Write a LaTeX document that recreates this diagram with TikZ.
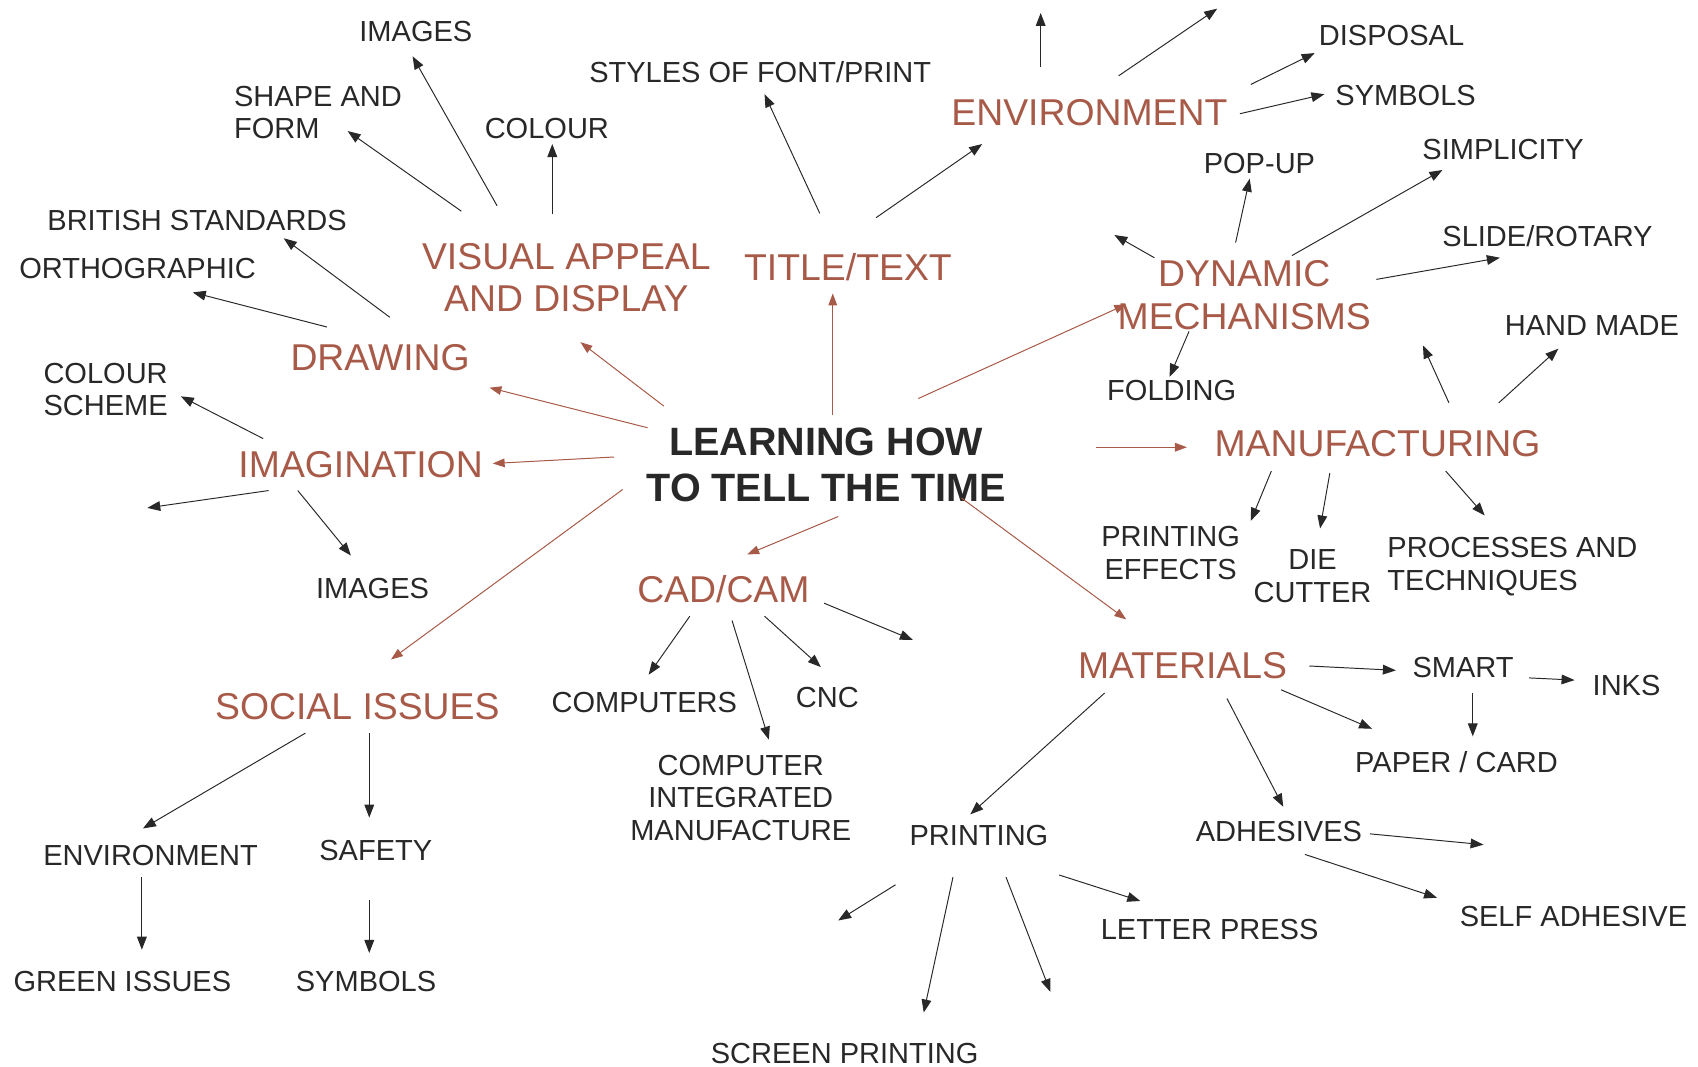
\documentclass[tikz,border=0pt]{standalone}
\usepackage{fontspec}
\setmainfont{Liberation Sans}
\usetikzlibrary{arrows.meta}
\definecolor{brn}{RGB}{168,90,72}
\definecolor{ink}{RGB}{40,40,40}
\begin{document}
\begin{tikzpicture}[x=1pt,y=-1pt,
  lab/.style={font=\fontsize{26.8}{30}\selectfont, text=ink, inner sep=0pt, anchor=base, align=center},
  labl/.style={lab, anchor=base west, align=left},
  cat/.style={font=\fontsize{34.5}{39}\selectfont, text=brn, inner sep=0pt, anchor=base, align=center},
  hub/.style={font=\fontsize{36.5}{42}\selectfont\bfseries, text=ink, inner sep=0pt, anchor=base, align=center},
  ar/.style={-{Triangle[length=12pt,width=9pt]}, draw=ink, line width=0.9pt},
  bar/.style={-{Triangle[length=11pt,width=8pt]}, draw=brn, fill=brn, line width=0.9pt}]
\useasboundingbox (0,0) rectangle (1568,985);
% hub (anchor base = baseline of last line)
\node[hub] (c) at (763,463) {LEARNING HOW\\TO TELL THE TIME};
% categories
\node[cat] (vis) at (523,288) {VISUAL APPEAL\\AND DISPLAY};
\node[cat] (title) at (783,259) {TITLE/TEXT};
\node[cat] (env) at (1006,116) {ENVIRONMENT};
\node[cat] (draw) at (351,342) {DRAWING};
\node[cat] (imag) at (333,441) {IMAGINATION};
\node[cat] (dyn) at (1149,304) {DYNAMIC\\MECHANISMS};
\node[cat] (manu) at (1272,422) {MANUFACTURING};
\node[cat] (cad) at (668,556) {CAD/CAM};
\node[cat] (mat) at (1092,627) {MATERIALS};
\node[cat] (soc) at (330,664) {SOCIAL ISSUES};
% labels
\node[lab] (img1) at (384,38) {IMAGES};
\node[labl] (shape) at (216,128) {SHAPE AND\\FORM};
\node[lab] (col1) at (505,128) {COLOUR};
\node[lab] (styles) at (702,76) {STYLES OF FONT/PRINT};
\node[lab] (brit) at (182,213) {BRITISH STANDARDS};
\node[lab] (ortho) at (127,257) {ORTHOGRAPHIC};
\node[labl] (colsch) at (40,384) {COLOUR\\SCHEME};
\node[lab] (img2) at (344,553) {IMAGES};
\node[lab] (disp) at (1285,42) {DISPOSAL};
\node[lab] (sym1) at (1298,97) {SYMBOLS};
\node[lab] (pop) at (1163,160) {POP-UP};
\node[lab] (simp) at (1388,147) {SIMPLICITY};
\node[lab] (slide) at (1429,228) {SLIDE/ROTARY};
\node[lab] (hand) at (1470,310) {HAND MADE};
\node[lab] (fold) at (1082,370) {FOLDING};
\node[lab] (peff) at (1081,535) {PRINTING\\EFFECTS};
\node[lab] (die) at (1212,556) {DIE\\CUTTER};
\node[labl] (proc) at (1281,545) {PROCESSES AND\\TECHNIQUES};
\node[lab] (comps) at (595,658) {COMPUTERS};
\node[lab] (cnc) at (764,653) {CNC};
\node[lab] (cim) at (684,776) {COMPUTER\\INTEGRATED\\MANUFACTURE};
\node[lab] (smart) at (1351,626) {SMART};
\node[lab] (inks) at (1502,642) {INKS};
\node[lab] (paper) at (1345,713) {PAPER / CARD};
\node[lab] (adh) at (1181,777) {ADHESIVES};
\node[lab] (self) at (1453,856) {SELF ADHESIVE};
\node[lab] (print) at (904,781) {PRINTING};
\node[lab] (letter) at (1117,868) {LETTER PRESS};
\node[lab] (screen) at (780,982) {SCREEN PRINTING};
\node[lab] (env2) at (139,799) {ENVIRONMENT};
\node[lab] (safety) at (347,795) {SAFETY};
\node[lab] (green) at (113,916) {GREEN ISSUES};
\node[lab] (sym2) at (338,916) {SYMBOLS};
% free ends
\coordinate (fe1) at (961,12);
\coordinate (fe2) at (1124,8);
\coordinate (fi1) at (136,469);
\coordinate (fd1) at (1029,217);
\coordinate (fm1) at (1314,319);
\coordinate (fc1) at (843,591);
\coordinate (fa1) at (1370,780);
\coordinate (fp1) at (774,850);
\coordinate (fp2) at (970,916);
% hub arrows
\draw[bar] ([shift={(-150,-88)}]c.base) -- ([shift={(13,28)}]vis.base);
\draw[bar] ([shift={(-165,-68)}]c.base) -- ([shift={(101,16)}]draw.base);
\draw[bar] ([shift={(6,-80)}]c.base) -- ([shift={(-14,12)}]title.base);
\draw[bar] ([shift={(-196,-41)}]c.base) -- ([shift={(122,-13)}]imag.base);
\draw[bar] ([shift={(85,-95)}]c.base) -- ([shift={(-109,-23)}]dyn.base);
\draw[bar] ([shift={(249,-50)}]c.base) -- ([shift={(-176,-9)}]manu.base);
\draw[bar] ([shift={(11,14)}]c.base) -- ([shift={(22,-44)}]cad.base);
\draw[bar] ([shift={(125,-3)}]c.base) -- ([shift={(-52,-55)}]mat.base);
\draw[bar] ([shift={(-188,-11)}]c.base) -- ([shift={(31,-55)}]soc.base);
% visual appeal
\draw[ar] ([shift={(-64,-98)}]vis.base) -- ([shift={(-3,14)}]img1.base);
\draw[ar] ([shift={(-97,-93)}]vis.base) -- ([shift={(105,-7)}]shape.base west);
\draw[ar] ([shift={(-13,-90)}]vis.base) -- ([shift={(5,5)}]col1.base);
% title
\draw[ar] ([shift={(-26,-62)}]title.base) -- ([shift={(4,11)}]styles.base);
\draw[ar] ([shift={(26,-58)}]title.base) -- ([shift={(-99,17)}]env.base);
% environment
\draw[ar] ([shift={(-45,-54)}]env.base) -- (fe1);
\draw[ar] ([shift={(27,-46)}]env.base) -- (fe2);
\draw[ar] ([shift={(149,-38)}]env.base) -- ([shift={(-71,7)}]disp.base);
\draw[ar] ([shift={(139,-11)}]env.base) -- ([shift={(-75,-10)}]sym1.base);
% drawing
\draw[ar] ([shift={(9,-49)}]draw.base) -- ([shift={(80,7)}]brit.base);
\draw[ar] ([shift={(-49,-40)}]draw.base) -- ([shift={(51,13)}]ortho.base);
% imagination
\draw[ar] ([shift={(-90,-36)}]imag.base) -- ([shift={(127,-18)}]colsch.base west);
\draw[ar] ([shift={(-85,12)}]imag.base) -- (fi1);
\draw[ar] ([shift={(-58,12)}]imag.base) -- ([shift={(-20,-40)}]img2.base);
% dynamic mechanisms
\draw[ar] ([shift={(-83,-66)}]dyn.base) -- (fd1);
\draw[ar] ([shift={(-8,-80)}]dyn.base) -- ([shift={(-9,5)}]pop.base);
\draw[ar] ([shift={(44,-68)}]dyn.base) -- ([shift={(-56,10)}]simp.base);
\draw[ar] ([shift={(122,-46)}]dyn.base) -- ([shift={(-44,10)}]slide.base);
\draw[ar] ([shift={(-51,2)}]dyn.base) -- ([shift={(-2,-22)}]fold.base);
% manufacturing
\draw[ar] ([shift={(66,-50)}]manu.base) -- (fm1);
\draw[ar] ([shift={(112,-50)}]manu.base) -- ([shift={(-31,12)}]hand.base);
\draw[ar] ([shift={(-98,13)}]manu.base) -- ([shift={(74,-54)}]peff.base);
\draw[ar] ([shift={(-44,15)}]manu.base) -- ([shift={(7,-68)}]die.base);
\draw[ar] ([shift={(63,13)}]manu.base) -- ([shift={(90,-69)}]proc.base west);
% cad/cam
\draw[ar] ([shift={(-31,13)}]cad.base) -- ([shift={(4,-35)}]comps.base);
\draw[ar] ([shift={(38,13)}]cad.base) -- ([shift={(-6,-37)}]cnc.base);
\draw[ar] ([shift={(8,17)}]cad.base) -- ([shift={(26,-93)}]cim.base);
\draw[ar] ([shift={(93,1)}]cad.base) -- (fc1);
% materials
\draw[ar] ([shift={(117,-12)}]mat.base) -- ([shift={(-62,-7)}]smart.base);
\draw[ar] ([shift={(91,10)}]mat.base) -- ([shift={(-78,-40)}]paper.base);
\draw[ar] ([shift={(41,18)}]mat.base) -- ([shift={(4,-32)}]adh.base);
\draw[ar] ([shift={(-72,13)}]mat.base) -- ([shift={(-8,-29)}]print.base);
% smart
\draw[ar] ([shift={(61,0)}]smart.base) -- ([shift={(-48,-14)}]inks.base);
\draw[ar] ([shift={(9,14)}]smart.base) -- ([shift={(15,-33)}]paper.base);
% adhesives
\draw[ar] ([shift={(84,-7)}]adh.base) -- (fa1);
\draw[ar] ([shift={(24,12)}]adh.base) -- ([shift={(-126,-27)}]self.base);
% printing
\draw[ar] ([shift={(-77,36)}]print.base) -- (fp1);
\draw[ar] ([shift={(-24,29)}]print.base) -- ([shift={(73,-47)}]screen.base);
\draw[ar] ([shift={(25,29)}]print.base) -- (fp2);
\draw[ar] ([shift={(74,27)}]print.base) -- ([shift={(-64,-36)}]letter.base);
% social issues
\draw[ar] ([shift={(-48,13)}]soc.base) -- ([shift={(-7,-34)}]env2.base);
\draw[ar] ([shift={(11,13)}]soc.base) -- ([shift={(-6,-40)}]safety.base);
\draw[ar] ([shift={(-8,11)}]env2.base) -- ([shift={(18,-39)}]green.base);
\draw[ar] ([shift={(-6,36)}]safety.base) -- ([shift={(3,-36)}]sym2.base);
\end{tikzpicture}
\end{document}
